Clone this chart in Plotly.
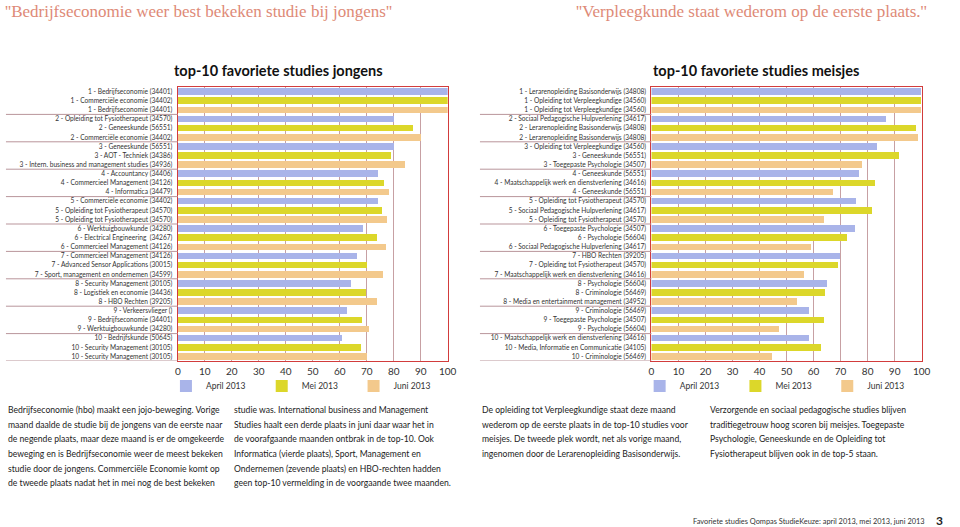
import plotly.graph_objects as go

W, H = 960, 527
def px(x): return x / W
def py(y): return 1 - y / H

months = ["April 2013", "Mei 2013", "Juni 2013"]
colors = ["#a9b4e9", "#dcd72a", "#f3c98c"]

# ---------------- jongens ----------------
jongens_april_labels = [
    "1 - Bedrijfseconomie (34401)", "2 - Opleiding tot Fysiotherapeut (34570)",
    "3 - Geneeskunde (56551)", "4 - Accountancy (34406)",
    "5 - Commerciële economie (34402)", "6 - Werktuigbouwkunde (34280)",
    "7 - Commercieel Management (34126)", "8 - Security Management (30105)",
    "9 - Verkeersvlieger ()", "10 - Bedrijfskunde (50645)"]
jongens_april_values = [100, 80, 80, 74, 74, 68.5, 66.4, 64.2, 62.8, 60.9]

jongens_mei_labels = [
    "1 - Commerciële economie (34402)", "2 - Geneeskunde (56551)",
    "3 - AOT - Techniek (34386)", "4 - Commercieel Management (34126)",
    "5 - Opleiding tot Fysiotherapeut (34570)", "6 - Electrical Engineering  (34267)",
    "7 - Advanced Sensor Applications (30015)", "8 - Logistiek en economie (34436)",
    "9 - Bedrijfseconomie (34401)", "10 - Security Management (30105)"]
jongens_mei_values = [100, 87.2, 78.8, 76.3, 75.6, 73.9, 70.2, 69.5, 68.3, 67.8]

jongens_juni_labels = [
    "1 - Bedrijfseconomie (34401)", "2 - Commerciële economie (34402)",
    "3 - Intern. business and management studies (34936)", "4 - Informatica (34479)",
    "5 - Opleiding tot Fysiotherapeut (34570)", "6 - Commercieel Management (34126)",
    "7 - Sport, management en ondernemen (34599)", "8 - HBO Rechten (39205)",
    "9 - Werktuigbouwkunde (34280)", "10 - Security Management (30105)"]
jongens_juni_values = [100, 90.2, 84.1, 78.3, 77.5, 77.2, 76.1, 73.9, 70.6, 70.2]

# ---------------- meisjes ----------------
meisjes_april_labels = [
    "1 - Lerarenopleiding Basisonderwijs (34808)", "2 - Sociaal Pedagogische Hulpverlening (34617)",
    "3 - Opleiding tot Verpleegkundige (34560)", "4 - Geneeskunde (56551)",
    "5 - Opleiding tot Fysiotherapeut (34570)", "6 - Toegepaste Psychologie (34507)",
    "7 - HBO Rechten (39205)", "8 - Psychologie (56604)",
    "9 - Criminologie (56469)", "10 - Maatschappelijk werk en dienstverlening (34616)"]
meisjes_april_values = [100, 87.1, 83.8, 77.1, 75.7, 75.6, 69.9, 65.1, 58.5, 58.5]

meisjes_mei_labels = [
    "1 - Opleiding tot Verpleegkundige (34560)", "2 - Lerarenopleiding Basisonderwijs (34808)",
    "3 - Geneeskunde (56551)", "4 - Maatschappelijk werk en dienstverlening (34616)",
    "5 - Sociaal Pedagogische Hulpverlening (34617)", "6 - Psychologie (56604)",
    "7 - Opleiding tot Fysiotherapeut (34570)", "8 - Criminologie (56469)",
    "9 - Toegepaste Psychologie (34507)", "10 - Media, Informatie en Communicatie (34105)"]
meisjes_mei_values = [100, 98.1, 91.8, 83.0, 81.9, 72.7, 69.1, 64.4, 64.0, 63.1]

meisjes_juni_labels = [
    "1 - Opleiding tot Verpleegkundige (34560)", "2 - Lerarenopleiding Basisonderwijs (34808)",
    "3 - Toegepaste Psychologie (34507)", "4 - Geneeskunde (56551)",
    "5 - Opleiding tot Fysiotherapeut (34570)", "6 - Sociaal Pedagogische Hulpverlening (34617)",
    "7 - Maatschappelijk werk en dienstverlening (34616)", "8 - Media en entertainment management (34952)",
    "9 - Psychologie (56604)", "10 - Criminologie (56469)"]
meisjes_juni_values = [100, 98.7, 78.2, 67.2, 64.1, 59.1, 56.8, 54.1, 47.3, 44.6]

x_ticks = [0, 10, 20, 30, 40, 50, 60, 70, 80, 90, 100]

chart_titles = ["top-10 favoriete studies jongens", "top-10 favoriete studies meisjes"]
quotes = ["''Bedrijfseconomie weer best bekeken studie bij jongens''",
          "''Verpleegkunde staat wederom op de eerste plaats.''"]

para_col1 = [
    "Bedrijfseconomie (hbo) maakt een jojo-beweging. Vorige",
    "maand daalde de studie bij de jongens van de eerste naar",
    "de negende plaats, maar deze maand is er de omgekeerde",
    "beweging en is Bedrijfseconomie weer de meest bekeken",
    "studie door de jongens. Commerciële Economie komt op",
    "de tweede plaats nadat het in mei nog de best bekeken"]
para_col2 = [
    "studie was. International business and Management",
    "Studies haalt een derde plaats in juni daar waar het in",
    "de voorafgaande maanden ontbrak in de top-10. Ook",
    "Informatica (vierde plaats), Sport, Management en",
    "Ondernemen (zevende plaats) en HBO-rechten hadden",
    "geen top-10 vermelding in de voorgaande twee maanden."]
para_col3 = [
    "De opleiding tot Verpleegkundige staat deze maand",
    "wederom op de eerste plaats in de top-10 studies voor",
    "meisjes. De tweede plek wordt, net als vorige maand,",
    "ingenomen door de Lerarenopleiding Basisonderwijs."]
para_col4 = [
    "Verzorgende en sociaal pedagogische studies blijven",
    "traditiegetrouw hoog scoren bij meisjes. Toegepaste",
    "Psychologie, Geneeskunde en de Opleiding tot",
    "Fysiotherapeut blijven ook in de top-5 staan."]
footer = "Favoriete studies Qompas StudieKeuze: april 2013, mei 2013, juni 2013"
page_no = "3"

FONT = "Lato"
fig = go.Figure()

charts = [
    dict(labels=[jongens_april_labels, jongens_mei_labels, jongens_juni_labels],
         values=[jongens_april_values, jongens_mei_values, jongens_juni_values],
         xa="x", ya="y", dom=(177, 450.3), tshift=-35),
    dict(labels=[meisjes_april_labels, meisjes_mei_labels, meisjes_juni_labels],
         values=[meisjes_april_values, meisjes_mei_values, meisjes_juni_values],
         xa="x2", ya="y2", dom=(656.7, 930.3), tshift=-31),
]
legend_swatch_offsets = [0, 97, 190]   # left edge of each legend swatch, relative to axis start

top, bottom = 87, 361
shapes = []
annotations = []
legend_layout = {}
for ci, ch in enumerate(charts):
    tickvals, ticktext = [], []
    for m in range(3):
        pos = [3 * r + m for r in range(10)]
        lg_id = "legend" if (ci * 3 + m) == 0 else "legend%d" % (ci * 3 + m + 1)
        fig.add_trace(go.Bar(
            x=ch["values"][m], y=pos, orientation="h", name=months[m],
            marker=dict(color=colors[m], line=dict(width=0)), width=0.72,
            xaxis=ch["xa"], yaxis=ch["ya"], legend=lg_id,
            hoverinfo="x+text", text=ch["labels"][m], textposition="none"))
        legend_layout[lg_id] = dict(
            orientation="h", x=px(ch["dom"][0] + legend_swatch_offsets[m] - 12), y=py(386),
            xanchor="left", yanchor="middle",
            font=dict(family=FONT, size=8.5, color="#333"),
            bgcolor="rgba(0,0,0,0)", itemclick=False, itemdoubleclick=False)
        tickvals += pos
        ticktext += ch["labels"][m]
    order = sorted(range(30), key=lambda i: tickvals[i])
    tickvals = [tickvals[i] for i in order]
    ticktext = [ticktext[i] for i in order]
    sfx = "" if ci == 0 else "2"
    fig.update_layout(**{
        "xaxis" + sfx: dict(domain=[px(ch["dom"][0]), px(ch["dom"][1])], range=[0, 100],
                            tickvals=x_ticks, ticks="", showgrid=True, gridcolor="#c7a0a3",
                            gridwidth=1, zeroline=False, showline=True, linecolor="#d23c3c",
                            linewidth=1.2, mirror=True, anchor="y" + sfx,
                            tickfont=dict(family=FONT, size=10, color="#333"),
                            ticklabelstandoff=1, fixedrange=True),
        "yaxis" + sfx: dict(domain=[py(bottom), py(top)], range=[29.5, -0.5],
                            tickvals=tickvals, ticktext=ticktext, ticks="",
                            showgrid=False, zeroline=False, showline=True,
                            linecolor="#d23c3c", linewidth=1.2, mirror=True,
                            anchor="x" + sfx,
                            tickfont=dict(family=FONT, size=6.6, color="#333"),
                            ticklabelstandoff=3, fixedrange=True),
    })
    # group separators left of the category labels
    for g in range(1, 11):
        shapes.append(dict(type="line", xref="paper", yref="y" + sfx,
                           x0=px(3 + ci * 480), x1=px(ch["dom"][0]),
                           y0=3 * g - 0.5, y1=3 * g - 0.5,
                           line=dict(color="#b9959b", width=1)))
    # chart title
    annotations.append(dict(text="<b>" + chart_titles[ci] + "</b>", xref="paper", yref="paper",
                            x=px((ch["dom"][0] + ch["dom"][1]) / 2 + ch["tshift"]), y=py(70.5),
                            xanchor="center", yanchor="middle", showarrow=False,
                            font=dict(family=FONT, size=14.5, color="#111")))

fig.update_layout(**legend_layout)

# quotes
annotations.append(dict(text=quotes[0], xref="paper", yref="paper", x=px(0), y=py(11),
                        xanchor="left", yanchor="middle", showarrow=False,
                        font=dict(family="Liberation Serif", size=17, color="#de8a77")))
annotations.append(dict(text=quotes[1], xref="paper", yref="paper", x=px(938), y=py(11),
                        xanchor="right", yanchor="middle", showarrow=False,
                        font=dict(family="Liberation Serif", size=17, color="#de8a77")))

# paragraphs
for lines, x0 in [(para_col1, 3), (para_col2, 232), (para_col3, 483), (para_col4, 714)]:
    for i, ln in enumerate(lines):
        annotations.append(dict(text=ln, xref="paper", yref="paper", x=px(x0),
                                y=py(410 + i * 14.67), xanchor="left", yanchor="middle",
                                showarrow=False,
                                font=dict(family=FONT, size=8.6, color="#222")))

annotations.append(dict(text=footer, xref="paper", yref="paper", x=px(936), y=py(521),
                        xanchor="right", yanchor="middle", showarrow=False,
                        font=dict(family=FONT, size=7.4, color="#333")))
annotations.append(dict(text="<b>" + page_no + "</b>", xref="paper", yref="paper", x=px(948),
                        y=py(520), xanchor="center", yanchor="middle", showarrow=False,
                        font=dict(family=FONT, size=12, color="#222")))

fig.update_layout(width=W, height=H, margin=dict(l=0, r=0, t=0, b=0),
                  paper_bgcolor="white", plot_bgcolor="white", bargap=0,
                  barmode="overlay", showlegend=True,
                  shapes=shapes, annotations=annotations)

fig.write_html("out.html", config={"displayModeBar": False},
               post_script="document.body.style.margin='0px';"
                           "document.documentElement.style.overflow='hidden';"
                           "document.body.style.overflow='hidden';")
